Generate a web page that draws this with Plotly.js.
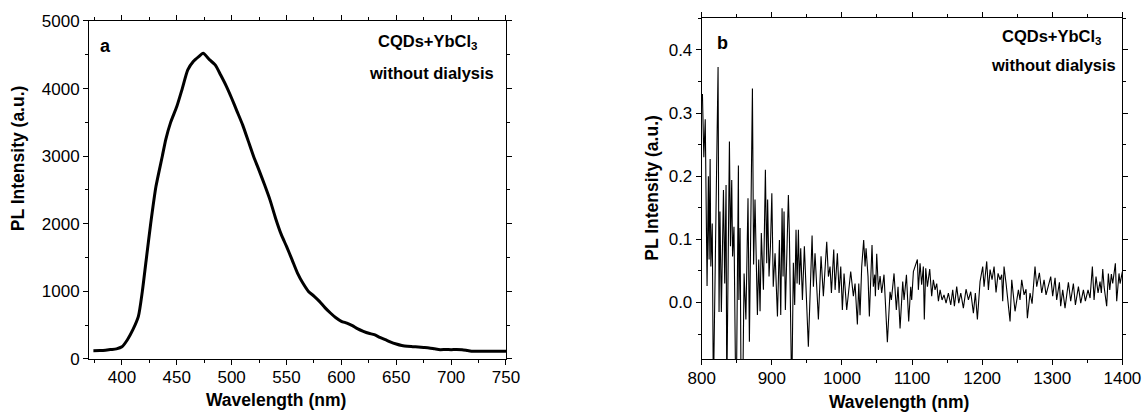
<!DOCTYPE html>
<html>
<head>
<meta charset="utf-8">
<script src="https://cdn.plot.ly/plotly-3.0.1.min.js"></script>
<style>html,body{margin:0;padding:0;background:#fff;}#chart{width:1144px;height:413px;}</style>
</head>
<body>
<div id="chart"></div>
<script>
// Panel a: visible PL spectrum
const wavelengthA = [374,380,385,390,395,400,405,410,415,418.6,422,426.2,431,436.8,440,444.4,450,455,460,465,470,474,480,485,490,495,500,505,510,515,520,525,530,535,540,545,550,555,560,565,570,575,580,585,590,595,600,605,610,615,620,625,630,635,640,645,650,655,660,665,670,675,680,685,690,695,700,705,710,715,720,725,730,735,740,745,750];
const intensityA = [123,125,130,140,150,180,285,433,630,1000,1450,2000,2550,3000,3250,3500,3734,4000,4276,4400,4473,4522,4424,4350,4200,4040,3857,3660,3463,3230,2995,2790,2576,2350,2083,1850,1665,1470,1271,1120,1000,930,852,760,680,610,557,530,493,445,409,380,360,320,286,250,222,200,187,182,177,170,163,150,138,140,138,140,138,125,113,113,113,113,113,115,113];

// Panel b: NIR PL spectrum (noisy)
const wavelengthB = [800,801,803,805,807.6,809.5,810.5,812,813,815,816.6,821,823.3,824.7,826,828,831,832.8,834.7,835.7,838,839.5,841,842.8,844,846,849,852.3,853,854.7,857,860.4,863,866,868,872.3,874,876,879.4,881.3,883.2,885,888,890.8,892.7,894,896,898,900,902,904.6,908,910.8,912.7,914.6,916,917.4,919.3,923.6,925,928.4,930.7,932.6,934.5,936,937.9,939.3,941.2,943.6,946.4,952.1,957.4,959.3,961.6,966.4,970.2,973.5,978.3,980.7,983,985,988.3,990.2,993.5,995.9,998.3,1000.6,1003,1006.8,1012.5,1016.3,1018.7,1022,1024,1025.8,1028.2,1031,1033,1034.4,1037.2,1039.1,1042.9,1044.8,1046.8,1047.7,1049.6,1052,1054.4,1056.7,1060,1064.8,1068.6,1070.5,1074.3,1077.6,1080,1082.9,1086.7,1088.6,1092,1095.2,1098.1,1099.5,1101.9,1107.6,1109,1111.4,1113.7,1116.1,1117.5,1119.5,1121.9,1125.2,1128,1130.4,1132.8,1135.2,1137.6,1140,1142.8,1145.6,1148.5,1151.8,1155.2,1158,1160.4,1163.7,1166.6,1169.5,1173.2,1177,1180.4,1183.7,1187.5,1190.3,1193.2,1197,1200.8,1202.7,1206.5,1208.9,1211.3,1214.1,1217,1219.8,1222.7,1225.5,1227.9,1229.3,1231.2,1234.1,1239.8,1242.2,1246.9,1251.7,1254,1256.4,1259.8,1262.6,1264.5,1268.3,1271.2,1275.4,1277.8,1281.6,1285,1288.3,1291.1,1297.8,1300.6,1304,1306.3,1310.2,1312,1314.9,1318.2,1323,1326.3,1330.1,1333,1337.3,1340.6,1344.4,1347.2,1351,1353.9,1357.2,1359.6,1362.4,1365.3,1368.1,1370,1372,1373.9,1377.6,1380,1382,1384.3,1386.2,1390,1391.9,1395.2,1396.7,1400];
const intensityB = [0.326,0.33,0.23,0.29,0.026,0.20,0.068,0.227,0.057,0.125,-0.15,0.214,0.373,-0.015,0.144,-0.015,0.178,0.03,0.186,-0.15,0.189,0.255,0.089,0.194,0.073,0.12,-0.2,0.217,0.004,0.118,-0.3,0.046,-0.027,0.165,-0.062,0.339,0.06,0.163,-0.02,0.068,-0.014,0.11,0.02,0.21,0.062,0.163,0.041,0.089,0.173,0.025,0.078,-0.022,0.099,-0.02,0.149,0.041,0.144,-0.012,0.17,0.11,-0.15,0.063,-0.004,0.115,0.03,0.115,0.028,0.086,0.004,0.089,-0.07,0.106,0.025,0.078,-0.027,0.073,0.01,0.096,0.041,0.057,0.015,0.084,0.02,0.078,0.015,0.057,-0.012,0.046,-0.012,0.049,0.01,0.03,-0.035,0.03,-0.02,0.057,0.099,0.057,0.086,0.041,-0.022,0.091,0.025,0.044,0.01,0.077,0.02,0.042,0.015,0.044,-0.063,0.017,0.004,0.046,-0.012,0.025,-0.041,0.033,0.004,0.044,-0.03,0.025,0.004,0.049,0.068,0.02,0.062,0.028,0.057,-0.027,0.054,0.025,0.053,0.01,0.036,0.02,0.03,0.002,0.02,0.004,0.012,-0.001,0.015,-0.004,0.02,-0.006,0.025,-0.001,0.015,-0.009,0.021,0.004,0.017,-0.017,0.015,-0.027,0.033,0.057,0.025,0.065,0.02,0.052,0.036,0.057,0.016,0.046,0.036,0.044,0.002,0.057,0.03,-0.03,0.036,-0.014,0.02,0.004,0.036,0.012,0.021,-0.025,0.015,-0.002,0.057,0.025,0.047,0.015,0.036,0.012,0.041,0.01,0.039,0.004,0.032,-0.006,0.02,-0.009,0.032,0.002,0.03,-0.004,0.025,-0.001,0.02,0.002,0.02,0.007,0.057,0.004,0.041,0.015,0.033,0.015,0.053,0.025,-0.006,0.046,0.02,0.045,0.03,0.062,0.002,0.046,0.03,0.049];

const xTitle = 'Wavelength (nm)';
const yTitle = 'PL Intensity (a.u.)';
const sampleLine1 = 'CQDs+YbCl<sub>3</sub>';
const sampleLine2 = 'without dialysis';

const FONT = 'Arial, "Liberation Sans", sans-serif';

function axisBase(extra) {
  return Object.assign({
    showline: true, linecolor: '#000', linewidth: 1,
    mirror: 'ticks', ticks: 'outside', ticklen: 5, tickwidth: 1, tickcolor: '#000',
    showgrid: false, zeroline: false,
    tickfont: {family: FONT, size: 17, color: '#000'},
    fixedrange: true
  }, extra);
}

const traces = [
  {x: wavelengthA, y: intensityA, xaxis: 'x', yaxis: 'y', type: 'scatter', mode: 'lines',
   line: {color: '#000', width: 3, shape: 'spline', smoothing: 0.6}, hoverinfo: 'skip'},
  {x: wavelengthB, y: intensityB, xaxis: 'x2', yaxis: 'y2', type: 'scatter', mode: 'lines',
   line: {color: '#000', width: 1.1}, hoverinfo: 'skip'}
];

const annFont = {family: FONT, size: 16.5, color: '#000', weight: 'bold'};
const titleFont = {family: FONT, size: 17.5, color: '#000', weight: 'bold'};

const layout = {
  width: 1144, height: 413,
  margin: {l: 0, r: 0, t: 0, b: 0},
  paper_bgcolor: '#fff', plot_bgcolor: '#fff',
  showlegend: false,
  xaxis: axisBase({domain: [0.0778, 0.4423], range: [370, 750], dtick: 50, tick0: 0, ticklabelstandoff: -2,
    minor: {dtick: 25, tick0: 0, ticks: 'outside', ticklen: 3, tickcolor: '#000', showgrid: false}, anchor: 'y'}),
  yaxis: axisBase({domain: [0.1308, 0.9492], range: [0, 5000], dtick: 1000,
    minor: {dtick: 500, ticks: 'outside', ticklen: 3, tickcolor: '#000', showgrid: false}, anchor: 'x'}),
  xaxis2: axisBase({domain: [0.6134, 0.9811], range: [800, 1400], dtick: 100, tick0: 0, ticklabelstandoff: -2,
    minor: {dtick: 50, tick0: 0, ticks: 'outside', ticklen: 3, tickcolor: '#000', showgrid: false}, anchor: 'y2'}),
  yaxis2: axisBase({domain: [0.130, 0.9557], range: [-0.09, 0.45], dtick: 0.1, tick0: 0, tickformat: '.1f',
    minor: {dtick: 0.05, tick0: 0, ticks: 'outside', ticklen: 3, tickcolor: '#000', showgrid: false}, anchor: 'x2'}),
  annotations: [
    // axis titles
    {text: '<b>' + xTitle + '</b>', xref: 'paper', yref: 'paper', x: 0.2413, y: 13/413, showarrow: false, font: titleFont, xanchor: 'center', yanchor: 'middle'},
    {text: '<b>' + xTitle + '</b>', xref: 'paper', yref: 'paper', x: 0.786, y: 11.5/413, showarrow: false, font: titleFont, xanchor: 'center', yanchor: 'middle'},
    {text: '<b>' + yTitle + '</b>', xref: 'paper', yref: 'paper', x: 18/1144, y: 0.617, textangle: -90, showarrow: false, font: titleFont, xanchor: 'center', yanchor: 'middle'},
    {text: '<b>' + yTitle + '</b>', xref: 'paper', yref: 'paper', x: 651.7/1144, y: (413-188)/413, textangle: -90, showarrow: false, font: titleFont, xanchor: 'center', yanchor: 'middle'},
    // panel labels
    {text: '<b>a</b>', xref: 'paper', yref: 'paper', x: 105/1144, y: (413-46)/413, showarrow: false, font: {family: FONT, size: 18, color: '#000'}, xanchor: 'center', yanchor: 'middle'},
    {text: '<b>b</b>', xref: 'paper', yref: 'paper', x: 722.7/1144, y: (413-43)/413, showarrow: false, font: {family: FONT, size: 18, color: '#000'}, xanchor: 'center', yanchor: 'middle'},
    // sample labels
    {text: '<b>' + sampleLine1 + '</b>', xref: 'paper', yref: 'paper', x: 427/1144, y: (413-42)/413, showarrow: false, font: annFont, xanchor: 'center', yanchor: 'middle'},
    {text: '<b>' + sampleLine2 + '</b>', xref: 'paper', yref: 'paper', x: 431/1144, y: (413-73)/413, showarrow: false, font: annFont, xanchor: 'center', yanchor: 'middle'},
    {text: '<b>' + sampleLine1 + '</b>', xref: 'paper', yref: 'paper', x: 1051.7/1144, y: (413-37)/413, showarrow: false, font: annFont, xanchor: 'center', yanchor: 'middle'},
    {text: '<b>' + sampleLine2 + '</b>', xref: 'paper', yref: 'paper', x: 1053.7/1144, y: (413-65)/413, showarrow: false, font: annFont, xanchor: 'center', yanchor: 'middle'}
  ]
};

Plotly.newPlot('chart', traces, layout, {displayModeBar: false, staticPlot: true});
</script>
</body>
</html>
